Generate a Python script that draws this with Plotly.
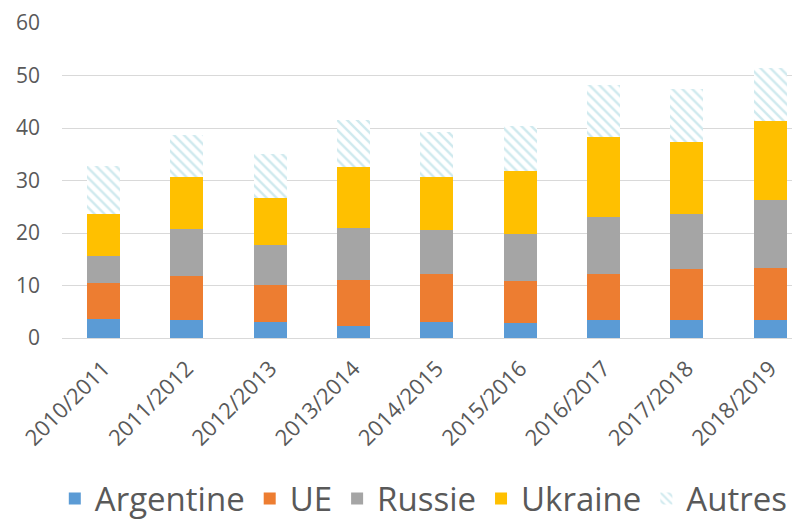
import plotly.graph_objects as go

campaigns = ["2010/2011", "2011/2012", "2012/2013", "2013/2014", "2014/2015",
             "2015/2016", "2016/2017", "2017/2018", "2018/2019"]
argentine = [3.6, 3.4, 3.1, 2.2, 3.1, 2.9, 3.4, 3.4, 3.4]
ue = [6.9, 8.4, 7.0, 8.9, 9.0, 7.9, 8.7, 9.8, 10.0]
russie = [5.1, 9.0, 7.6, 9.9, 8.4, 9.0, 11.0, 10.5, 12.8]
ukraine = [8.0, 9.9, 9.0, 11.6, 10.2, 12.0, 15.1, 13.7, 15.1]
autres = [9.2, 7.9, 8.3, 8.9, 8.5, 8.6, 9.9, 10.1, 10.2]
y_ticks = [0, 10, 20, 30, 40, 50, 60]

FONT = "Open Sans"
fig = go.Figure()
series = [
    ("Argentine", argentine, "#5B9BD5"),
    ("UE", ue, "#ED7D31"),
    ("Russie", russie, "#A5A5A5"),
    ("Ukraine", ukraine, "#FFC000"),
]
for name, vals, col in series:
    fig.add_trace(go.Bar(name=name, x=campaigns, y=vals,
                         marker=dict(color=col, line=dict(width=0))))
fig.add_trace(go.Bar(name="Autres", x=campaigns, y=autres,
                     marker=dict(color="white", line=dict(width=0),
                                 pattern=dict(shape="\\", fgcolor="#9fd4dd",
                                              bgcolor="white", size=7,
                                              solidity=0.35))))

fig.update_layout(
    barmode="stack",
    bargap=0.604,
    width=792, height=512,
    margin=dict(l=54, r=0, t=15, b=182, autoexpand=False),
    plot_bgcolor="white", paper_bgcolor="white",
    font=dict(family=FONT, color="#595959"),
    xaxis=dict(range=[-0.5, 8.357], tickangle=-45, showgrid=False,
               showline=True, linecolor="#d9d9d9", linewidth=1,
               tickfont=dict(size=22, family=FONT, color="#595959"),
               ticks="", automargin=False, ticklabelstandoff=8,
               ticklabeloverflow="allow"),
    yaxis=dict(range=[0, 60], tickvals=y_ticks, showgrid=True,
               gridcolor="#d9d9d9", gridwidth=1, zeroline=False,
               showline=False, ticks="", automargin=False,
               tickfont=dict(size=21, family=FONT, color="#595959"),
               ticklabelstandoff=21, ticklabeloverflow="allow"),
    legend=dict(orientation="h", yref="container", y=0.042, yanchor="middle",
                x=0.525, xanchor="center", xref="container",
                font=dict(size=33, family=FONT, color="#595959"),
                traceorder="normal", itemwidth=30),
    showlegend=True,
)
fig.write_html("out.html")
